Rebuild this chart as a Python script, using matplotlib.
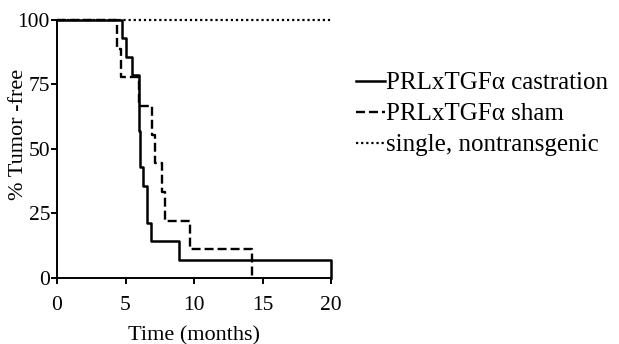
import matplotlib
matplotlib.use("Agg")
import matplotlib.pyplot as plt

# step data (months, % tumor-free)
castration_t = [0, 4.75, 5.05, 5.45, 5.95, 6.05, 6.25, 6.55, 6.85, 8.9, 20]
castration_s = [100, 92.9, 85.7, 78.6, 57.1, 42.9, 35.7, 21.4, 14.3, 7.1, 0]

sham_t = [0, 4.4, 4.65, 6.0, 6.9, 7.15, 7.65, 7.9, 9.7, 14.2]
sham_s = [100, 88.9, 77.8, 66.7, 55.6, 44.4, 33.3, 22.2, 11.1, 0]

single_t = [0, 20]
single_s = [100, 100]

labels = ["PRLxTGF\u03b1 castration", "PRLxTGF\u03b1 sham", "single, nontransgenic"]
xticks = [0, 5, 10, 15, 20]
yticks = [0, 25, 50, 75, 100]

plt.rcParams['font.family'] = ['Liberation Serif', 'DejaVu Serif']

fig = plt.figure(figsize=(6.19, 3.44), dpi=100)
ax = fig.add_axes([0.092, 0.192, 0.443, 0.75])

l3, = ax.step(single_t, single_s, where='post', color='black', lw=1.6,
              linestyle=(0, (1, 1.3)), clip_on=False)
l2, = ax.step(sham_t, sham_s, where='post', color='black', lw=1.7,
              linestyle=(0, (3.8, 1.7)), clip_on=False)
l1, = ax.step(castration_t, castration_s, where='post', color='black', lw=1.8,
              clip_on=False)

ax.set_xlim(0, 20)
ax.set_ylim(0, 100)
ax.set_xticks(xticks)
ax.set_yticks(yticks)
for s in ['top', 'right']:
    ax.spines[s].set_visible(False)
for s in ['left', 'bottom']:
    ax.spines[s].set_linewidth(1.4)
ax.tick_params(axis='both', labelsize=15.5, width=1.4, length=4, direction='out')
ax.tick_params(axis='x', pad=9)
ax.tick_params(axis='y', pad=1)

ax.set_xlabel("Time (months)", fontsize=16, labelpad=8)
ax.set_ylabel("% Tumor -free", fontsize=16)
ax.yaxis.set_label_coords(-0.107, 0.558)

fig.legend([l1, l2, l3], labels, loc='upper left', bbox_to_anchor=(0.559, 0.82),
           frameon=False, fontsize=18, handlelength=1.15, handletextpad=0.05,
           labelspacing=0.34, borderaxespad=0)

fig.savefig("out.png", dpi=100)
